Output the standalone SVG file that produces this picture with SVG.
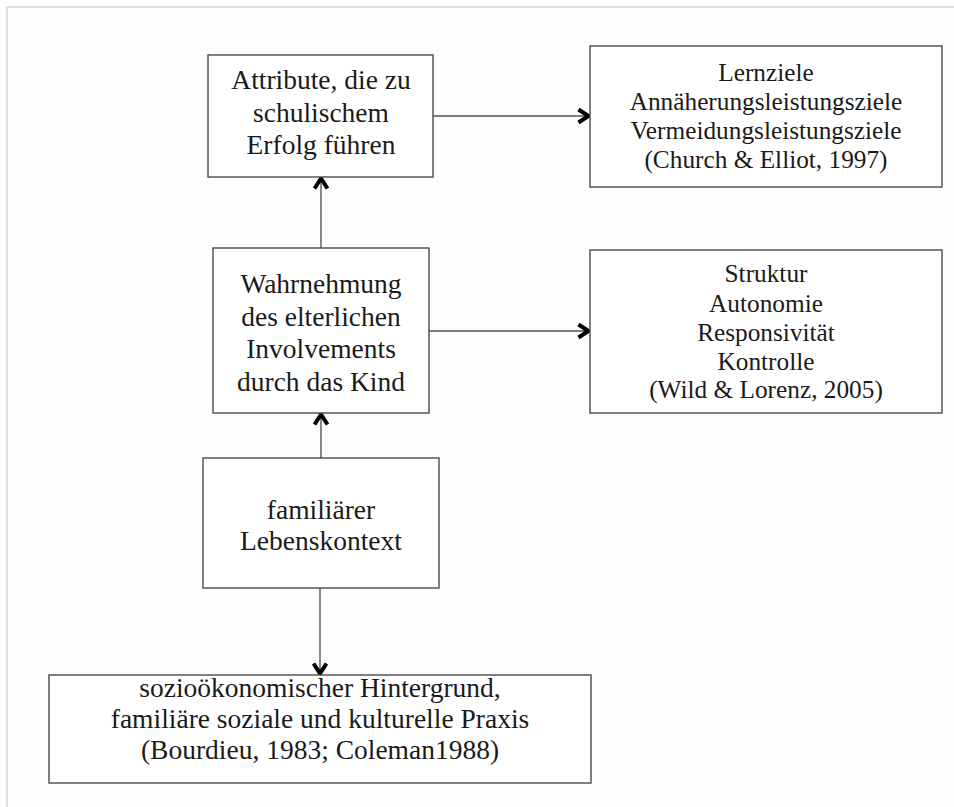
<svg xmlns="http://www.w3.org/2000/svg" width="954" height="807" viewBox="0 0 954 807">
  <style>
    .box { fill: #ffffff; stroke: #4a4a4a; stroke-width: 1.4; }
    .lbl { font-family: "Liberation Serif", "Times New Roman", serif; fill: #1a1a1a; text-anchor: middle; }
    .lg { font-size: 27.5px; }
    .sm { font-size: 25.3px; }
    .conn { stroke: #555555; stroke-width: 1.4; fill: none; marker-end: url(#chev); }
  </style>
  <defs>
    <!-- bold open chevron arrowhead, tip on the target edge -->
    <marker id="chev" viewBox="0 0 18 18" markerWidth="18" markerHeight="18" markerUnits="userSpaceOnUse" refX="15" refY="9" orient="auto">
      <path d="M3.5,2.5 L13.5,9 L3.5,15.5" fill="none" stroke="#000000" stroke-width="4" stroke-linejoin="miter"/>
    </marker>
  </defs>

  <!-- page frame -->
  <rect x="0" y="0" width="954" height="807" fill="#ffffff"/>
  <rect x="7" y="7" width="960" height="820" fill="#fdfdfd" stroke="#d6d6d6" stroke-width="1.5"/>

  <!-- connectors -->
  <g id="connectors">
    <line class="conn" x1="433" y1="116" x2="590" y2="116"/>
    <line class="conn" x1="429" y1="331" x2="590" y2="331"/>
    <line class="conn" x1="321" y1="248" x2="321" y2="177"/>
    <line class="conn" x1="321" y1="458" x2="321" y2="413"/>
    <line class="conn" x1="320" y1="588" x2="320" y2="675"/>
  </g>

  <g id="attribute">
    <rect class="box" x="208" y="55" width="225" height="122"/>
    <text class="lbl lg" x="321" y="89">Attribute, die zu</text>
    <text class="lbl lg" x="321" y="121.5">schulischem</text>
    <text class="lbl lg" x="321" y="154">Erfolg führen</text>
  </g>

  <g id="ziele">
    <rect class="box" x="590" y="46" width="352" height="141"/>
    <text class="lbl sm" x="766" y="80.5">Lernziele</text>
    <text class="lbl sm" x="766" y="110">Annäherungsleistungsziele</text>
    <text class="lbl sm" x="766" y="139">Vermeidungsleistungsziele</text>
    <text class="lbl sm" x="766" y="168">(Church &amp; Elliot, 1997)</text>
  </g>

  <g id="wahrnehmung">
    <rect class="box" x="213" y="248" width="216" height="165"/>
    <text class="lbl lg" x="321" y="293">Wahrnehmung</text>
    <text class="lbl lg" x="321" y="325.5">des elterlichen</text>
    <text class="lbl lg" x="321" y="358">Involvements</text>
    <text class="lbl lg" x="321" y="390.5">durch das Kind</text>
  </g>

  <g id="struktur">
    <rect class="box" x="590" y="250" width="352" height="163"/>
    <text class="lbl sm" x="766" y="282">Struktur</text>
    <text class="lbl sm" x="766" y="311.5">Autonomie</text>
    <text class="lbl sm" x="766" y="340.5">Responsivität</text>
    <text class="lbl sm" x="766" y="369.5">Kontrolle</text>
    <text class="lbl sm" x="766" y="398">(Wild &amp; Lorenz, 2005)</text>
  </g>

  <g id="lebenskontext">
    <rect class="box" x="203" y="458" width="236" height="130"/>
    <text class="lbl lg" x="321" y="518.5">familiärer</text>
    <text class="lbl lg" x="321" y="550">Lebenskontext</text>
  </g>

  <g id="hintergrund">
    <rect class="box" x="49" y="675" width="542" height="108"/>
    <text class="lbl lg" x="320" y="696.5">sozioökonomischer Hintergrund,</text>
    <text class="lbl lg" x="320" y="728">familiäre soziale und kulturelle Praxis</text>
    <text class="lbl lg" x="320" y="759">(Bourdieu, 1983; Coleman1988)</text>
  </g>
</svg>
